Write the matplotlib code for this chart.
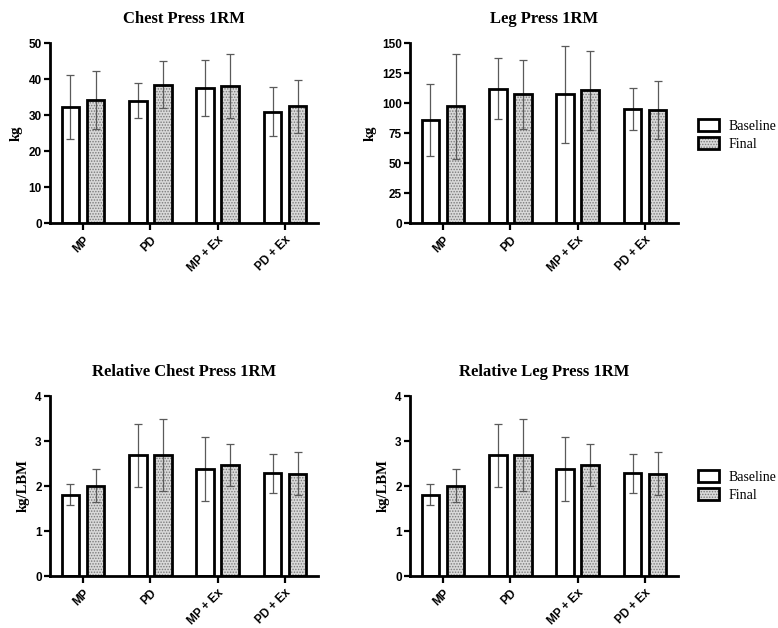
"""
Chest and leg press 1RM, absolute and relative to LBM
Baseline vs Final, four groups, mean +/- SD
"""
import matplotlib
matplotlib.use('Agg')
import matplotlib.pyplot as plt
import numpy as np


GROUPS = ['MP', 'PD', 'MP + Ex', 'PD + Ex']

chest_base = [32.3, 34.0, 37.6, 30.9]
chest_base_sd = [8.9, 4.8, 7.8, 6.8]
chest_final = [34.1, 38.4, 38.1, 32.4]
chest_final_sd = [8.0, 6.5, 8.9, 7.4]

leg_base = [85.6, 111.8, 107.2, 94.8]
leg_base_sd = [30.0, 25.5, 40.2, 17.5]
leg_final = [97.4, 107.2, 110.6, 94.1]
leg_final_sd = [43.8, 28.5, 33.0, 24.0]

rel_chest_base = [1.81, 2.68, 2.38, 2.28]
rel_chest_base_sd = [0.24, 0.70, 0.72, 0.43]
rel_chest_final = [2.01, 2.69, 2.46, 2.27]
rel_chest_final_sd = [0.37, 0.80, 0.47, 0.48]

# the relative leg press panel shows the same numbers as the chest one
rel_leg_base = [1.81, 2.68, 2.38, 2.28]
rel_leg_base_sd = [0.24, 0.70, 0.72, 0.43]
rel_leg_final = [2.01, 2.69, 2.46, 2.27]
rel_leg_final_sd = [0.37, 0.80, 0.47, 0.48]

SERIES = ['Baseline', 'Final']

plt.rcParams['hatch.linewidth'] = 0.7

SANS = 'Liberation Sans'
SERIF = 'Liberation Serif'


def panel(ax, title, ylabel, ymax, yticks, base, base_sd, final, final_sd):
    x = np.arange(len(GROUPS))
    w = 0.26
    off = 0.186
    err = dict(fmt='none', ecolor='#5a5a5a', elinewidth=0.9, capsize=3.2,
               capthick=0.9, zorder=3)

    ax.bar(x - off, base, w, facecolor='white', linewidth=0, zorder=2)
    ax.errorbar(x - off, base, yerr=base_sd, **err)
    b_out = ax.bar(x - off, base, w, fill=False, edgecolor='black',
                   linewidth=2, zorder=4)

    # stippled fill for the final bars
    f_fill = ax.bar(x + off, final, w, facecolor='#d9d9d9', edgecolor='#7a7a7a',
                    hatch='......', linewidth=0, zorder=2)
    ax.errorbar(x + off, final, yerr=final_sd, **err)
    f_out = ax.bar(x + off, final, w, fill=False, edgecolor='black',
                   linewidth=2, zorder=4)

    ax.set_xlim(-0.49, 3.49)
    ax.set_ylim(0, ymax)
    for s in ['top', 'right']:
        ax.spines[s].set_visible(False)
    for s in ['left', 'bottom']:
        ax.spines[s].set_linewidth(2)

    ax.set_xticks(x)
    ax.set_xticklabels(GROUPS, rotation=45, ha='right', rotation_mode='anchor',
                       fontweight='bold', family=SANS, fontsize=8.5)
    ax.set_yticks(yticks)
    ax.set_yticklabels([str(t) for t in yticks], fontweight='bold',
                       family=SANS, fontsize=8.5)
    ax.tick_params(axis='x', length=5, width=1.6, pad=3)
    ax.tick_params(axis='y', length=4.5, width=1.6, pad=1.5)

    ax.set_title(title, family=SERIF, fontweight='bold', fontsize=12, pad=14.5)
    ax.set_ylabel(ylabel, family=SERIF, fontweight='bold', fontsize=10.5,
                  labelpad=4)
    return b_out, f_fill, f_out


fig = plt.figure(figsize=(7.78, 6.28), dpi=100)

ax1 = fig.add_axes([0.0643, 0.6449, 0.3445, 0.2866])
ax2 = fig.add_axes([0.5270, 0.6449, 0.3445, 0.2866])
ax3 = fig.add_axes([0.0643, 0.0828, 0.3445, 0.2866])
ax4 = fig.add_axes([0.5270, 0.0828, 0.3445, 0.2866])

panel(ax1, 'Chest Press 1RM', 'kg', 50, [0, 10, 20, 30, 40, 50],
      chest_base, chest_base_sd, chest_final, chest_final_sd)
h = panel(ax2, 'Leg Press 1RM', 'kg', 150, [0, 25, 50, 75, 100, 125, 150],
          leg_base, leg_base_sd, leg_final, leg_final_sd)
panel(ax3, 'Relative Chest Press 1RM', 'kg/LBM', 4, [0, 1, 2, 3, 4],
      rel_chest_base, rel_chest_base_sd, rel_chest_final, rel_chest_final_sd)
panel(ax4, 'Relative Leg Press 1RM', 'kg/LBM', 4, [0, 1, 2, 3, 4],
      rel_leg_base, rel_leg_base_sd, rel_leg_final, rel_leg_final_sd)

handles = [h[0][0], (h[1][0], h[2][0])]
for ytop in [0.81, 0.251]:
    fig.legend(handles, SERIES, loc='upper left', bbox_to_anchor=(0.897, ytop),
               frameon=False, borderpad=0, borderaxespad=0,
               prop={'family': SERIF, 'size': 10}, handlelength=1.5,
               handleheight=0.9, labelspacing=0.3, handletextpad=0.7)

fig.savefig('out.png', dpi=100)
